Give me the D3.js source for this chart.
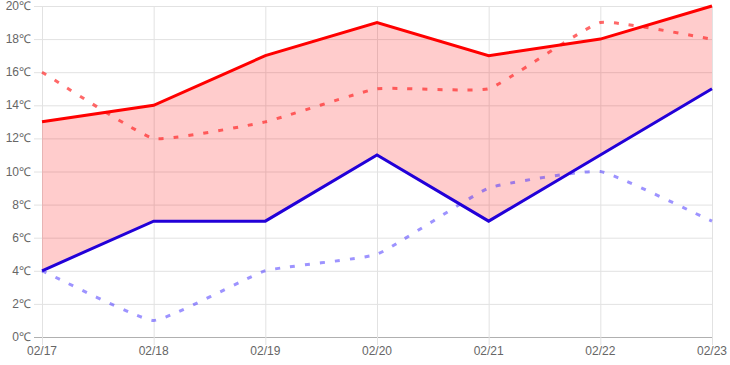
<!DOCTYPE html>
<html><head><meta charset="utf-8">
<script src="https://cdn.jsdelivr.net/npm/d3@7"></script>
<style>body{margin:0;background:#fff;}svg{display:block;}</style>
</head><body>
<svg id="c" width="730" height="365"></svg>
<script>
const categories = ["02/17","02/18","02/19","02/20","02/21","02/22","02/23"];
const highValues = [13,14,17,19,17,18,20];
const lowValues = [4,7,7,11,7,11,15];
const highDashed = [16,12,13,15,15,19,18];
const lowDashed = [4,1,4,5,9,10,7];
const yTicks = [0,2,4,6,8,10,12,14,16,18,20];

const svg = d3.select("#c");
const L = 42, R = 712, T = 6, B = 337;
const x = d3.scalePoint().domain(categories).range([L, R]);
const y = d3.scaleLinear().domain([0, 20]).range([B, T]);

// grid
const g = svg.append("g");
g.selectAll(".hg").data(yTicks).enter().append("line")
  .attr("x1", L - 8).attr("x2", R).attr("y1", d => y(d) + 0.5).attr("y2", d => y(d) + 0.5)
  .attr("stroke", d => d === 0 ? "#b0b0b0" : "#e2e2e2").attr("stroke-width", 1);
g.selectAll(".vg").data(categories).enter().append("line")
  .attr("x1", d => x(d) + 0.5).attr("x2", d => x(d) + 0.5).attr("y1", T).attr("y2", B + 8)
  .attr("stroke", "#e2e2e2").attr("stroke-width", 1);

// area
const area = d3.area().x((d, i) => x(categories[i])).y0((d, i) => y(lowValues[i])).y1(d => y(d));
svg.append("path").datum(highValues).attr("d", area).attr("fill", "rgba(255,0,0,0.2)");

// Chart.js-like spline with small tension
function spline(vals, tension) {
  const pts = vals.map((v, i) => [x(categories[i]), y(v)]);
  const cps = pts.map((p, i) => {
    const prev = pts[Math.max(0, i - 1)], next = pts[Math.min(pts.length - 1, i + 1)];
    const d01 = Math.hypot(p[0] - prev[0], p[1] - prev[1]);
    const d12 = Math.hypot(next[0] - p[0], next[1] - p[1]);
    let s01 = d01 / (d01 + d12), s12 = d12 / (d01 + d12);
    if (isNaN(s01)) s01 = 0; if (isNaN(s12)) s12 = 0;
    const fa = tension * s01, fb = tension * s12;
    return {
      prev: [p[0] - fa * (next[0] - prev[0]), p[1] - fa * (next[1] - prev[1])],
      next: [p[0] + fb * (next[0] - prev[0]), p[1] + fb * (next[1] - prev[1])]
    };
  });
  const path = d3.path();
  path.moveTo(pts[0][0], pts[0][1]);
  for (let i = 1; i < pts.length; i++) {
    path.bezierCurveTo(cps[i - 1].next[0], cps[i - 1].next[1], cps[i].prev[0], cps[i].prev[1], pts[i][0], pts[i][1]);
  }
  return path.toString();
}

// dashed lines
svg.append("path").attr("d", spline(highDashed, 0.12)).attr("fill", "none")
  .attr("stroke", "rgba(255,40,40,0.7)").attr("stroke-width", 3).attr("stroke-dasharray", "5,10");
svg.append("path").attr("d", spline(lowDashed, 0.12)).attr("fill", "none")
  .attr("stroke", "rgba(60,40,255,0.5)").attr("stroke-width", 3).attr("stroke-dasharray", "5,10");

// solid lines
const line = d3.line().x((d, i) => x(categories[i])).y(d => y(d));
svg.append("path").datum(highValues).attr("d", line).attr("fill", "none")
  .attr("stroke", "#ff0000").attr("stroke-width", 3);
svg.append("path").datum(lowValues).attr("d", line).attr("fill", "none")
  .attr("stroke", "#2200d8").attr("stroke-width", 3);

// labels
svg.selectAll(".yl").data(yTicks).enter().append("text")
  .attr("x", 31).attr("y", d => y(d) + 4).attr("text-anchor", "end")
  .attr("font-family", "Liberation Sans, Arial, sans-serif").attr("font-size", 12).attr("fill", "#666")
  .text(d => d + "℃");
svg.selectAll(".xl").data(categories).enter().append("text")
  .attr("x", d => x(d)).attr("y", 355).attr("text-anchor", "middle")
  .attr("font-family", "Liberation Sans, Arial, sans-serif").attr("font-size", 12).attr("fill", "#666")
  .text(d => d);
</script>
</body></html>
